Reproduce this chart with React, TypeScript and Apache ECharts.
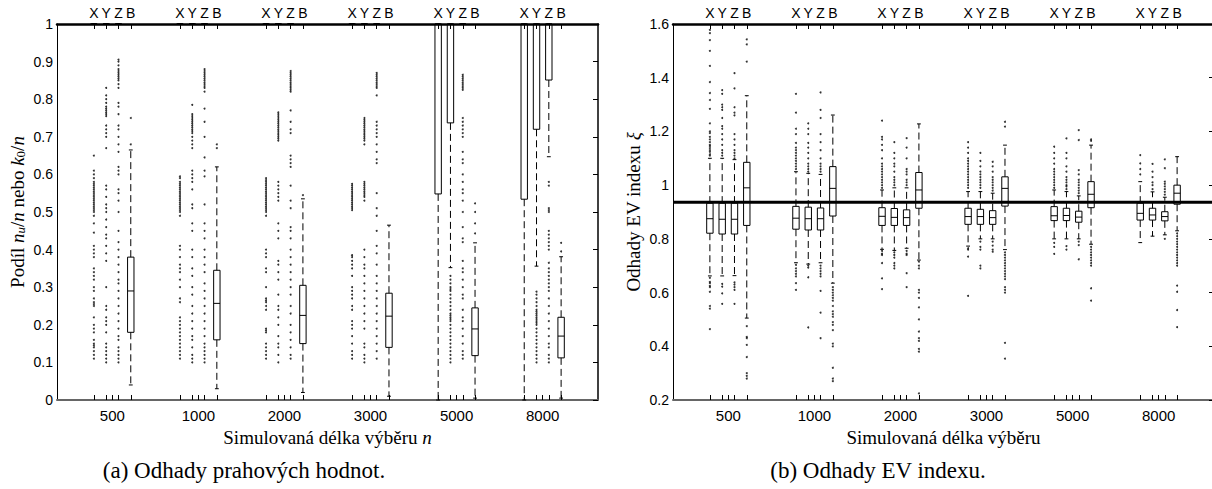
import React, { useEffect, useRef } from "react";
import * as echarts from "echarts";

// ---------------- categories ----------------
const sizeLabels = ["500", "1000", "2000", "3000", "5000", "8000"];
const methodLabels = ["X", "Y", "Z", "B"];

// ---------------- (a) threshold estimates ----------------
// per sample size: [lower whisker, Q1, median, Q3, upper whisker]
const aBoxX = [
  [1, 1, 1, 1, 1], [1, 1, 1, 1, 1], [1, 1, 1, 1, 1], [1, 1, 1, 1, 1],
  [0, 0.548, 1, 1, 1], [0, 0.534, 1, 1, 1],
];
const aBoxY = [
  [1, 1, 1, 1, 1], [1, 1, 1, 1, 1], [1, 1, 1, 1, 1], [1, 1, 1, 1, 1],
  [0.352, 0.737, 1, 1, 1], [0.356, 0.72, 1, 1, 1],
];
const aBoxZ = [
  [1, 1, 1, 1, 1], [1, 1, 1, 1, 1], [1, 1, 1, 1, 1], [1, 1, 1, 1, 1],
  [1, 1, 1, 1, 1], [0.647, 0.851, 1, 1, 1],
];
const aBoxB = [
  [0.04, 0.18, 0.29, 0.38, 0.665],
  [0.03, 0.16, 0.257, 0.345, 0.62],
  [0.02, 0.15, 0.225, 0.305, 0.535],
  [0.01, 0.14, 0.223, 0.284, 0.465],
  [0.005, 0.118, 0.189, 0.245, 0.418],
  [0.005, 0.112, 0.17, 0.22, 0.381],
];
const aOutX = [
  [0.65, 0.61, 0.6, 0.59, 0.58, 0.575, 0.57, 0.565, 0.56, 0.555, 0.55, 0.545, 0.54, 0.535, 0.53, 0.525, 0.52, 0.515, 0.51, 0.505, 0.5, 0.49, 0.47, 0.445, 0.41, 0.4, 0.39, 0.38, 0.35, 0.34, 0.33, 0.32, 0.3, 0.29, 0.27, 0.26, 0.255, 0.25, 0.22, 0.2, 0.19, 0.18, 0.16, 0.15, 0.145, 0.14, 0.13, 0.12, 0.11],
  [0.595, 0.59, 0.58, 0.575, 0.57, 0.565, 0.56, 0.555, 0.55, 0.545, 0.54, 0.535, 0.53, 0.525, 0.52, 0.515, 0.51, 0.505, 0.5, 0.49, 0.41, 0.4, 0.38, 0.36, 0.35, 0.34, 0.32, 0.3, 0.27, 0.26, 0.22, 0.21, 0.2, 0.19, 0.18, 0.17, 0.16, 0.15, 0.14, 0.13, 0.12, 0.11],
  [0.59, 0.585, 0.58, 0.575, 0.57, 0.565, 0.56, 0.555, 0.55, 0.545, 0.54, 0.535, 0.53, 0.525, 0.52, 0.515, 0.51, 0.505, 0.5, 0.49, 0.4, 0.39, 0.38, 0.35, 0.34, 0.3, 0.27, 0.265, 0.26, 0.25, 0.24, 0.19, 0.185, 0.18, 0.15, 0.14, 0.13, 0.12, 0.11],
  [0.575, 0.57, 0.565, 0.56, 0.555, 0.55, 0.545, 0.54, 0.535, 0.53, 0.525, 0.52, 0.515, 0.51, 0.505, 0.385, 0.38, 0.37, 0.36, 0.35, 0.33, 0.3, 0.29, 0.28, 0.27, 0.25, 0.24, 0.21, 0.2, 0.19, 0.17, 0.15, 0.13, 0.12, 0.11],
  [],
  [],
];
const aOutY = [
  [0.83, 0.81, 0.8, 0.79, 0.78, 0.775, 0.77, 0.765, 0.76, 0.755, 0.73, 0.72, 0.71, 0.7, 0.67, 0.57, 0.56, 0.54, 0.52, 0.51, 0.5, 0.48, 0.46, 0.44, 0.43, 0.41, 0.39, 0.37, 0.3, 0.25, 0.24, 0.22, 0.21, 0.2, 0.18, 0.15, 0.14, 0.13, 0.12, 0.11, 0.1],
  [0.785, 0.76, 0.755, 0.75, 0.745, 0.74, 0.735, 0.73, 0.725, 0.72, 0.715, 0.71, 0.7, 0.69, 0.68, 0.67, 0.61, 0.6, 0.59, 0.58, 0.56, 0.52, 0.51, 0.47, 0.45, 0.4, 0.38, 0.35, 0.33, 0.3, 0.28, 0.25, 0.23, 0.21, 0.19, 0.17, 0.16, 0.14, 0.12, 0.11, 0.1],
  [0.765, 0.76, 0.755, 0.75, 0.745, 0.74, 0.735, 0.73, 0.725, 0.72, 0.715, 0.71, 0.705, 0.7, 0.695, 0.69, 0.58, 0.57, 0.56, 0.55, 0.54, 0.53, 0.47, 0.45, 0.43, 0.37, 0.36, 0.34, 0.32, 0.28, 0.25, 0.24, 0.22, 0.2, 0.17, 0.15, 0.14, 0.12, 0.1],
  [0.75, 0.745, 0.74, 0.735, 0.73, 0.725, 0.72, 0.715, 0.71, 0.705, 0.7, 0.695, 0.69, 0.68, 0.58, 0.575, 0.57, 0.565, 0.56, 0.555, 0.55, 0.545, 0.54, 0.53, 0.4, 0.38, 0.36, 0.35, 0.33, 0.31, 0.29, 0.27, 0.25, 0.23, 0.21, 0.19, 0.15, 0.14, 0.12, 0.11, 0.1],
  [0.33, 0.32, 0.31, 0.3, 0.295, 0.29, 0.28, 0.27, 0.26, 0.25, 0.24, 0.23, 0.225, 0.22, 0.215, 0.21, 0.2, 0.19, 0.18, 0.17, 0.16, 0.15, 0.14, 0.13, 0.12, 0.11, 0.1],
  [0.288, 0.28, 0.27, 0.26, 0.25, 0.24, 0.235, 0.23, 0.225, 0.22, 0.215, 0.21, 0.205, 0.2, 0.19, 0.18, 0.17, 0.16, 0.15, 0.14, 0.13, 0.12, 0.11, 0.1],
];
const aOutZ = [
  [0.905, 0.9, 0.89, 0.88, 0.875, 0.87, 0.865, 0.86, 0.855, 0.85, 0.84, 0.83, 0.79, 0.78, 0.76, 0.73, 0.72, 0.7, 0.68, 0.66, 0.62, 0.61, 0.6, 0.56, 0.55, 0.53, 0.5, 0.45, 0.42, 0.4, 0.38, 0.36, 0.34, 0.32, 0.31, 0.29, 0.27, 0.25, 0.23, 0.21, 0.19, 0.17, 0.16, 0.14, 0.13, 0.12, 0.11, 0.1],
  [0.88, 0.875, 0.87, 0.865, 0.86, 0.855, 0.85, 0.845, 0.84, 0.835, 0.83, 0.82, 0.775, 0.74, 0.7, 0.645, 0.61, 0.595, 0.52, 0.47, 0.45, 0.43, 0.4, 0.38, 0.36, 0.34, 0.31, 0.29, 0.27, 0.25, 0.23, 0.21, 0.19, 0.17, 0.15, 0.14, 0.13, 0.12, 0.11, 0.1],
  [0.875, 0.87, 0.865, 0.86, 0.855, 0.85, 0.845, 0.84, 0.835, 0.83, 0.825, 0.82, 0.77, 0.74, 0.72, 0.71, 0.65, 0.64, 0.63, 0.62, 0.57, 0.53, 0.51, 0.46, 0.45, 0.43, 0.4, 0.38, 0.36, 0.34, 0.32, 0.3, 0.28, 0.25, 0.23, 0.2, 0.18, 0.16, 0.14, 0.12, 0.11],
  [0.87, 0.865, 0.86, 0.855, 0.85, 0.845, 0.84, 0.835, 0.83, 0.81, 0.74, 0.73, 0.72, 0.71, 0.7, 0.68, 0.66, 0.64, 0.63, 0.55, 0.51, 0.49, 0.45, 0.41, 0.39, 0.36, 0.33, 0.31, 0.29, 0.27, 0.25, 0.23, 0.21, 0.19, 0.17, 0.15, 0.13, 0.11],
  [0.865, 0.86, 0.855, 0.85, 0.845, 0.84, 0.835, 0.83, 0.825, 0.75, 0.74, 0.73, 0.72, 0.71, 0.7, 0.66, 0.64, 0.63, 0.6, 0.58, 0.56, 0.55, 0.53, 0.5, 0.46, 0.43, 0.42, 0.37, 0.35, 0.34, 0.32, 0.3, 0.28, 0.27, 0.24, 0.22, 0.21, 0.19, 0.17, 0.15, 0.13, 0.12, 0.11],
  [0.58, 0.57, 0.51, 0.505, 0.5, 0.45, 0.44, 0.43, 0.42, 0.41, 0.4, 0.365, 0.35, 0.34, 0.33, 0.32, 0.31, 0.3, 0.29, 0.27, 0.25, 0.23, 0.21, 0.19, 0.17, 0.15, 0.14, 0.12, 0.11, 0.1],
];
const aOutB = [[0.68, 0.75], [0.67, 0.68], [0.545], [], [0.443, 0.47, 0.5, 0.523], [0.395, 0.418]];

// ---------------- (b) EV index estimates ----------------
const bBoxX = [
  [0.662, 0.821, 0.875, 0.933, 1.1],
  [0.711, 0.836, 0.877, 0.921, 1.05],
  [0.761, 0.85, 0.884, 0.916, 0.982],
  [0.773, 0.854, 0.883, 0.914, 0.976],
  [0.8, 0.868, 0.886, 0.92, 0.982],
  [0.786, 0.87, 0.895, 0.933, 1.013],
];
const bBoxY = [
  [0.662, 0.818, 0.873, 0.933, 1.1],
  [0.706, 0.833, 0.875, 0.918, 1.044],
  [0.757, 0.85, 0.88, 0.913, 0.99],
  [0.8, 0.854, 0.883, 0.91, 0.976],
  [0.8, 0.868, 0.887, 0.914, 0.976],
  [0.81, 0.87, 0.889, 0.914, 0.975],
];
const bBoxZ = [
  [0.663, 0.818, 0.873, 0.933, 1.095],
  [0.711, 0.833, 0.875, 0.915, 1.04],
  [0.765, 0.85, 0.879, 0.908, 0.99],
  [0.8, 0.854, 0.879, 0.905, 0.97],
  [0.8, 0.862, 0.881, 0.903, 0.96],
  [0.815, 0.867, 0.883, 0.901, 0.955],
];
const bBoxB = [
  [0.505, 0.85, 0.99, 1.085, 1.333],
  [0.635, 0.885, 0.988, 1.069, 1.261],
  [0.721, 0.914, 0.982, 1.047, 1.228],
  [0.76, 0.922, 0.988, 1.031, 1.149],
  [0.78, 0.916, 0.966, 1.013, 1.149],
  [0.83, 0.929, 0.97, 1.0, 1.106],
];
const bOutX = [
  [1.578, 1.566, 1.54, 1.5, 1.444, 1.384, 1.343, 1.317, 1.284, 1.23, 1.2, 1.194, 1.18, 1.17, 1.16, 1.15, 1.145, 1.138, 1.13, 1.124, 1.115, 1.11, 0.655, 0.64, 0.635, 0.625, 0.62, 0.603, 0.55, 0.54, 0.464],
  [1.06, 1.07, 1.08, 1.09, 1.1, 1.11, 1.12, 1.13, 1.14, 1.157, 1.19, 1.21, 1.27, 1.34, 0.703, 0.69, 0.68, 0.67, 0.66, 0.635, 0.61],
  [0.99, 1.0, 1.01, 1.02, 1.03, 1.04, 1.05, 1.06, 1.07, 1.08, 1.1, 1.13, 1.15, 1.17, 1.18, 1.24, 0.755, 0.745, 0.74, 0.71, 0.653, 0.613],
  [0.99, 1.0, 1.01, 1.02, 1.03, 1.04, 1.05, 1.06, 1.07, 1.08, 1.09, 1.1, 1.12, 1.14, 1.16, 0.765, 0.76, 0.734, 0.588],
  [0.99, 1.0, 1.01, 1.02, 1.03, 1.04, 1.05, 1.06, 1.08, 1.1, 1.12, 1.143, 0.785, 0.77, 0.744],
  [1.04, 1.06, 1.081, 1.112],
];
const bOutY = [
  [1.354, 1.34, 1.3, 1.29, 1.28, 1.25, 1.22, 1.21, 1.19, 1.17, 1.15, 1.13, 1.12, 1.11, 0.632, 0.622, 0.597, 0.558],
  [1.05, 1.06, 1.07, 1.08, 1.1, 1.12, 1.14, 1.157, 1.19, 1.21, 1.23, 0.7, 0.693, 0.657, 0.47],
  [1.0, 1.01, 1.02, 1.03, 1.05, 1.07, 1.08, 1.1, 1.12, 1.16, 0.75, 0.74, 0.73, 0.71, 0.7, 0.69],
  [0.99, 1.0, 1.01, 1.02, 1.03, 1.04, 1.05, 1.07, 1.09, 1.12, 0.79, 0.77, 0.76, 0.7, 0.69],
  [0.985, 0.995, 1.0, 1.01, 1.02, 1.03, 1.05, 1.07, 1.1, 1.12, 1.174, 0.773, 0.76],
  [0.985, 1.0, 1.01, 1.03, 1.05, 1.079],
];
const bOutZ = [
  [1.417, 1.36, 1.29, 1.27, 1.26, 1.19, 1.17, 1.15, 1.13, 1.12, 1.11, 1.1, 0.638, 0.63, 0.62, 0.61, 0.558],
  [1.05, 1.06, 1.07, 1.08, 1.1, 1.13, 1.16, 1.19, 1.25, 1.28, 1.345, 0.7, 0.69, 0.68, 0.67, 0.66, 0.606, 0.525, 0.43],
  [1.0, 1.01, 1.02, 1.04, 1.05, 1.06, 1.1, 1.14, 1.175, 0.755, 0.745, 0.74, 0.672, 0.62],
  [0.98, 0.99, 1.0, 1.01, 1.02, 1.03, 1.05, 1.07, 1.087, 0.79, 0.775, 0.76, 0.752],
  [0.97, 0.98, 0.99, 1.0, 1.01, 1.02, 1.04, 1.056, 1.168, 1.205, 0.79, 0.777, 0.724],
  [0.965, 0.975, 0.985, 0.995, 1.005, 1.013, 1.063, 1.096, 0.8],
];
const bOutB = [
  [1.46, 1.524, 1.543, 0.475, 0.435, 0.43, 0.405, 0.36, 0.3, 0.29, 0.28],
  [0.62, 0.61, 0.6, 0.59, 0.58, 0.57, 0.55, 0.53, 0.52, 0.51, 0.49, 0.48, 0.46, 0.41, 0.4, 0.32, 0.28, 0.27],
  [0.715, 0.7, 0.69, 0.61, 0.6, 0.58, 0.545, 0.5, 0.455, 0.43, 0.42, 0.39, 0.38, 0.225],
  [1.218, 1.236, 0.75, 0.74, 0.73, 0.72, 0.71, 0.7, 0.69, 0.68, 0.67, 0.66, 0.65, 0.62, 0.61, 0.6, 0.413, 0.354],
  [1.165, 1.17, 0.77, 0.76, 0.75, 0.74, 0.73, 0.72, 0.71, 0.7, 0.616, 0.57],
  [0.82, 0.81, 0.8, 0.79, 0.78, 0.77, 0.76, 0.75, 0.74, 0.73, 0.72, 0.71, 0.7, 0.626, 0.603, 0.535, 0.471],
];
const bReferenceXi = 0.936;

// ---------------- layout helpers ----------------
const SLOTS = 44;
const slot = (g: number, m: number) => 3 + 7 * g + m;
const methodSlots: number[] = [];
const bottomTickSlots: number[] = [];
const labelSlots: number[] = [];
sizeLabels.forEach((_, g) => {
  methodLabels.forEach((__, m) => methodSlots.push(slot(g, m)));
  labelSlots.push(slot(g, 1.5));
  bottomTickSlots.push(slot(g, 0), slot(g, 1), slot(g, 1.5), slot(g, 2), slot(g, 3));
});

const boxData = (boxes: number[][][]) => {
  const out: number[][] = [];
  boxes.forEach((arr, m) => arr.forEach((b, g) => out.push([slot(g, m), ...b])));
  return out;
};
const outlierData = (outs: number[][][]) => {
  const out: number[][] = [];
  outs.forEach((arr, m) => arr.forEach((vals, g) => vals.forEach((v) => out.push([slot(g, m), v]))));
  return out;
};

const renderBox = (_params: any, api: any) => {
  const x = api.value(0);
  const lo = api.coord([x, api.value(1)]);
  const cx = lo[0];
  const yLo = lo[1];
  const yQ1 = api.coord([x, api.value(2)])[1];
  const yMed = api.coord([x, api.value(3)])[1];
  const yQ3 = api.coord([x, api.value(4)])[1];
  const yHi = api.coord([x, api.value(5)])[1];
  const w = api.size([0.52, 0])[0];
  const cap = w * 0.3;
  const solid = { stroke: "#000", lineWidth: 1 };
  const dashed = { stroke: "#000", lineWidth: 1, lineDash: [7, 4] };
  const ch: any[] = [];
  if (yLo - yQ1 > 0.5) ch.push({ type: "line", shape: { x1: cx, y1: yQ1, x2: cx, y2: yLo }, style: dashed });
  if (yQ3 - yHi > 0.5) ch.push({ type: "line", shape: { x1: cx, y1: yQ3, x2: cx, y2: yHi }, style: dashed });
  ch.push({ type: "line", shape: { x1: cx - cap, y1: yLo, x2: cx + cap, y2: yLo }, style: solid });
  ch.push({ type: "line", shape: { x1: cx - cap, y1: yHi, x2: cx + cap, y2: yHi }, style: solid });
  ch.push({
    type: "rect",
    shape: { x: cx - w / 2, y: yQ3, width: w, height: Math.max(yQ1 - yQ3, 0) },
    style: { stroke: "#000", lineWidth: 1, fill: "none" },
  });
  ch.push({ type: "line", shape: { x1: cx - w / 2, y1: yMed, x2: cx + w / 2, y2: yMed }, style: solid });
  return { type: "group", children: ch };
};

const SANS = "Liberation Sans";
const SERIF = "Liberation Serif";
const NAME_SIZE = 19;

const bottomAxis = (gridIndex: number, name: string) => ({
  type: "value",
  gridIndex,
  position: "bottom",
  min: 0,
  max: SLOTS,
  axisLine: { show: true, onZero: false, lineStyle: { color: "#666", width: 2 } },
  axisTick: { show: true, inside: true, length: 5, customValues: bottomTickSlots, lineStyle: { color: "#000" } },
  axisLabel: {
    customValues: labelSlots,
    formatter: (v: number) => sizeLabels[Math.round((v - 4.5) / 7)],
    fontFamily: SANS,
    fontSize: 15,
    color: "#000",
    margin: 8,
  },
  splitLine: { show: false },
  name,
  nameLocation: "middle",
  nameGap: 28,
  nameTextStyle: {
    fontFamily: SERIF,
    fontSize: NAME_SIZE,
    color: "#000",
    rich: { i: { fontFamily: SERIF, fontStyle: "italic", fontSize: NAME_SIZE } },
  },
});
const topAxis = (gridIndex: number) => ({
  type: "value",
  gridIndex,
  position: "top",
  min: 0,
  max: SLOTS,
  axisLine: { show: true, onZero: false, lineStyle: { color: "#000", width: 2.5 } },
  axisTick: { show: true, inside: true, length: 5, customValues: methodSlots, lineStyle: { color: "#000" } },
  axisLabel: {
    customValues: methodSlots,
    formatter: (v: number) => methodLabels[Math.round(v - 3) % 7],
    fontFamily: SANS,
    fontSize: 14,
    color: "#000",
    margin: 4,
  },
  splitLine: { show: false },
});
const leftAxis = (gridIndex: number, min: number, max: number, interval: number, name: string, gap: number) => ({
  type: "value",
  gridIndex,
  position: "left",
  min,
  max,
  interval,
  axisLine: { show: true, onZero: false, lineStyle: { color: "#000", width: 1 } },
  axisTick: { show: false },
  axisLabel: { fontFamily: SANS, fontSize: 14, color: "#000", margin: 4 },
  splitLine: { show: false },
  name,
  nameLocation: "middle",
  nameGap: gap,
  nameTextStyle: {
    fontFamily: SERIF,
    fontSize: NAME_SIZE,
    color: "#000",
    rich: {
      i: { fontFamily: SERIF, fontStyle: "italic", fontSize: NAME_SIZE },
      s: { fontFamily: SERIF, fontStyle: "italic", fontSize: 13, padding: [7, 0, 0, 0] },
      z: { fontFamily: SERIF, fontSize: 13, padding: [7, 0, 0, 0] },
    },
  },
});
const rightAxis = (gridIndex: number, min: number, max: number, interval: number) => ({
  type: "value",
  gridIndex,
  position: "right",
  min,
  max,
  interval,
  axisLine: { show: true, onZero: false, lineStyle: { color: "#000", width: 1.5 } },
  axisTick: { show: true, inside: true, length: 5, lineStyle: { color: "#000" } },
  axisLabel: { show: false },
  splitLine: { show: false },
});

export default function App() {
  const ref = useRef<HTMLDivElement>(null);
  useEffect(() => {
    if (!ref.current) return;
    const chart = echarts.init(ref.current, undefined, { renderer: "svg" });
    chart.setOption({
      animation: false,
      backgroundColor: "#fff",
      grid: [
        { left: 57, top: 24, width: 541, height: 376, outerBoundsMode: "none" },
        { left: 673, top: 24, width: 541, height: 376, outerBoundsMode: "none" },
      ],
      xAxis: [
        bottomAxis(0, "Simulovaná délka výběru {i|n}"),
        topAxis(0),
        bottomAxis(1, "Simulovaná délka výběru"),
        topAxis(1),
      ],
      yAxis: [
        leftAxis(0, 0, 1, 0.1, "Podíl {i|n}{s|u}/{i|n} nebo {i|k}{z|0}/{i|n}", 30),
        rightAxis(0, 0, 1, 0.1),
        leftAxis(1, 0.2, 1.6, 0.2, "Odhady EV indexu {i|ξ}", 30),
        rightAxis(1, 0.2, 1.6, 0.2),
      ],
      series: [
        {
          type: "scatter",
          xAxisIndex: 0,
          yAxisIndex: 0,
          data: outlierData([aOutX, aOutY, aOutZ, aOutB]),
          symbol: "circle",
          symbolSize: 2,
          itemStyle: { color: "#000" },
          silent: true,
        },
        {
          type: "custom",
          xAxisIndex: 0,
          yAxisIndex: 0,
          data: boxData([aBoxX, aBoxY, aBoxZ, aBoxB]),
          encode: { x: 0, y: [1, 2, 3, 4, 5] },
          renderItem: renderBox,
          silent: true,
        },
        {
          type: "scatter",
          xAxisIndex: 2,
          yAxisIndex: 2,
          data: outlierData([bOutX, bOutY, bOutZ, bOutB]),
          symbol: "circle",
          symbolSize: 2,
          itemStyle: { color: "#000" },
          silent: true,
        },
        {
          type: "custom",
          xAxisIndex: 2,
          yAxisIndex: 2,
          data: boxData([bBoxX, bBoxY, bBoxZ, bBoxB]),
          encode: { x: 0, y: [1, 2, 3, 4, 5] },
          renderItem: renderBox,
          silent: true,
        },
        {
          type: "line",
          xAxisIndex: 2,
          yAxisIndex: 2,
          data: [[0, bReferenceXi], [SLOTS, bReferenceXi]],
          symbol: "none",
          lineStyle: { color: "#000", width: 3 },
          silent: true,
          z: 5,
        },
      ],
      graphic: [
        {
          type: "text",
          x: 244,
          y: 470,
          style: { text: "(a) Odhady prahových hodnot.", fontFamily: SERIF, fontSize: 23, fill: "#000", align: "center", verticalAlign: "middle" },
        },
        {
          type: "text",
          x: 878,
          y: 470,
          style: { text: "(b) Odhady EV indexu.", fontFamily: SERIF, fontSize: 23, fill: "#000", align: "center", verticalAlign: "middle" },
        },
      ],
    });
    return () => chart.dispose();
  }, []);
  return <div ref={ref} style={{ position: "fixed", left: 0, top: 0, width: 1212, height: 489 }} />;
}
